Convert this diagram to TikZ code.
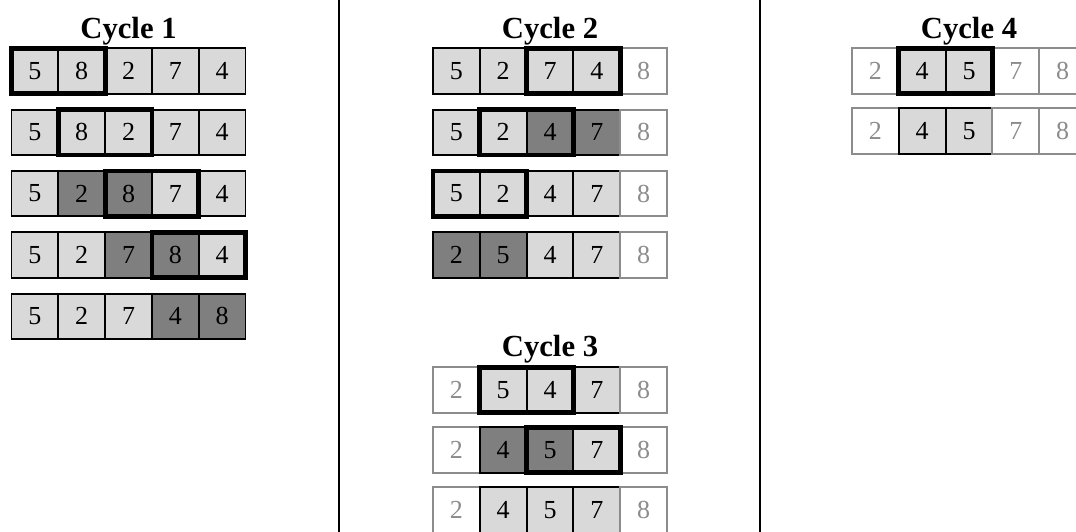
\documentclass[tikz,border=0pt]{standalone}
\usepackage{fontspec}
\setmainfont{Liberation Serif}
\usepackage{tikz}
\definecolor{cellfill}{HTML}{D9D9D9}
\definecolor{cellmark}{HTML}{7F7F7F}
\definecolor{celldone}{HTML}{8C8C8C}
\newcommand{\Crow}[4]{%
  \foreach \v/\k [count=\i] in {#4} {
    \node[\k] (#1-\i) at ({#2+(\i-0.5)*46.8},#3) {\v};
  }%
}

\begin{document}
\begin{tikzpicture}[x=0.75pt, y=-0.75pt,
  cell/.style={draw, minimum width=35.1pt, minimum height=34pt, inner sep=0pt, outer sep=0pt,
    line width=1.4pt, font=\fontsize{19.5}{21}\selectfont},
  lite/.style={cell, fill=cellfill}, dark/.style={cell, fill=cellmark},
  done/.style={cell, draw=celldone, text=celldone},
  hl/.style={line width=3.6pt},
  title/.style={anchor=base, font=\fontsize{23}{25}\selectfont\bfseries}]
  \useasboundingbox (0,0) rectangle (1076,532);
  \draw[line width=1.6pt] (339,0) -- (339,532);
  \draw[line width=1.6pt] (760,0) -- (760,532);

  \node[title] (t1) at (128.5,38) {Cycle 1};
  \Crow{a1}{11.5}{71}{5/lite,8/lite,2/lite,7/lite,4/lite}
  \Crow{a2}{11.5}{132.3}{5/lite,8/lite,2/lite,7/lite,4/lite}
  \Crow{a3}{11.5}{193.6}{5/lite,2/dark,8/dark,7/lite,4/lite}
  \Crow{a4}{11.5}{255}{5/lite,2/lite,7/dark,8/dark,4/lite}
  \Crow{a5}{11.5}{316.3}{5/lite,2/lite,7/lite,4/dark,8/dark}
  \draw[hl] (a1-1.north west) rectangle (a1-2.south east);
  \draw[hl] (a2-2.north west) rectangle (a2-3.south east);
  \draw[hl] (a3-3.north west) rectangle (a3-4.south east);
  \draw[hl] (a4-4.north west) rectangle (a4-5.south east);

  \node[title] (t2) at (550,38) {Cycle 2};
  \Crow{b1}{433}{71}{5/lite,2/lite,7/lite,4/lite,8/done}
  \Crow{b2}{433}{132.3}{5/lite,2/lite,4/dark,7/dark,8/done}
  \Crow{b3}{433}{193.6}{5/lite,2/lite,4/lite,7/lite,8/done}
  \Crow{b4}{433}{255}{2/dark,5/dark,4/lite,7/lite,8/done}
  \draw[hl] (b1-3.north west) rectangle (b1-4.south east);
  \draw[hl] (b2-2.north west) rectangle (b2-3.south east);
  \draw[hl] (b3-1.north west) rectangle (b3-2.south east);

  \node[title] (t3) at (550,356) {Cycle 3};
  \Crow{c1}{433}{390}{2/done,5/lite,4/lite,7/lite,8/done}
  \Crow{c2}{433}{450}{2/done,4/dark,5/dark,7/lite,8/done}
  \Crow{c3}{433}{510}{2/done,4/lite,5/lite,7/lite,8/done}
  \draw[hl] (c1-2.north west) rectangle (c1-3.south east);
  \draw[hl] (c2-3.north west) rectangle (c2-4.south east);

  \node[title] (t4) at (969,38) {Cycle 4};
  \Crow{d1}{852}{71}{2/done,4/lite,5/lite,7/done,8/done}
  \Crow{d2}{852}{131}{2/done,4/lite,5/lite,7/done,8/done}
  \draw[hl] (d1-2.north west) rectangle (d1-3.south east);
\end{tikzpicture}
\end{document}
